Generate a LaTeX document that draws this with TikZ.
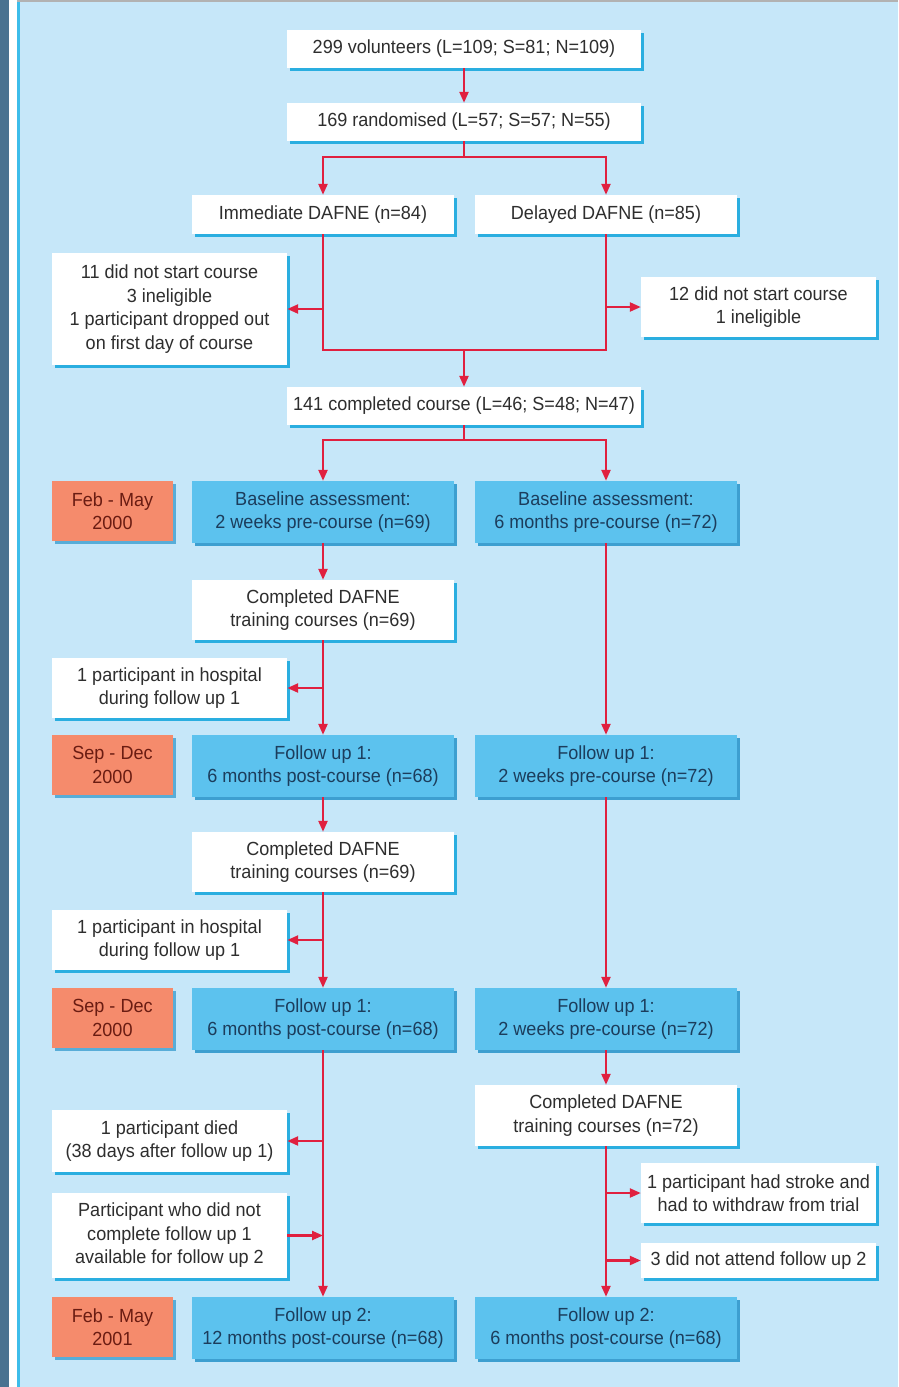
\documentclass[tikz,border=0pt]{standalone}
\usepackage{fontspec}
\setmainfont{Liberation Sans}[FakeStretch=0.95]
\usetikzlibrary{arrows.meta,shadows,calc}
\definecolor{bgc}{HTML}{C6E7F9}
\definecolor{stripe}{HTML}{4A7290}
\definecolor{cyanl}{HTML}{3DBDEA}
\definecolor{wshadow}{HTML}{2AAEE0}
\definecolor{bluebox}{HTML}{5CC2EE}
\definecolor{bshadow}{HTML}{3D9FD0}
\definecolor{orangebox}{HTML}{F58B6C}
\definecolor{redl}{HTML}{E0203F}
\definecolor{wtext}{HTML}{2E2E2E}
\definecolor{btext}{HTML}{1C3D5C}
\definecolor{otext}{HTML}{6A1C12}
\tikzset{
  base/.style={inner sep=2pt, align=center, font=\fontsize{19}{23.5}\selectfont},
  wbox/.style={base, fill=white, text=wtext, drop shadow={shadow xshift=3pt, shadow yshift=-3pt, fill=wshadow, opacity=1}},
  bbox/.style={base, fill=bluebox, text=btext, drop shadow={shadow xshift=3pt, shadow yshift=-3pt, fill=bshadow, opacity=1}},
  obox/.style={base, fill=orangebox, text=otext, drop shadow={shadow xshift=3pt, shadow yshift=-3pt, fill=bshadow, opacity=0.8}},
  wide/.style={minimum width=354pt, minimum height=38pt},
  mid/.style={minimum width=262pt},
  side/.style={minimum width=235pt},
  datebox/.style={minimum width=121pt, minimum height=60pt},
  conn/.style={draw=redl, line width=2.3pt},
  arr/.style={conn, -{Triangle[length=11pt,width=9pt]}}
}
\begin{document}
\begin{tikzpicture}[x=1pt,y=-1pt]
\useasboundingbox (0,0) rectangle (898,1387);
% background
\fill[bgc] (0,0) rectangle (898,1387);
\fill[stripe] (0,0) rectangle (9,1387);
\fill[white] (9,0) rectangle (17,1387);
\fill[cyanl] (17,0) rectangle (19.5,1387);
\fill[gray!60] (17,0) rectangle (898,2);

% top part
\node[wbox, wide] (v1) at (464,49) {299 volunteers (L=109; S=81; N=109)};
\node[wbox, wide] (v2) at (464,122) {169 randomised (L=57; S=57; N=55)};
\node[wbox, mid, minimum height=39pt] (imm) at (323,214.5) {Immediate DAFNE (n=84)};
\node[wbox, mid, minimum height=39pt] (del) at (606,214.5) {Delayed DAFNE (n=85)};
\node[wbox, side, minimum height=112pt] (nsl) at (169.5,309) {11 did not start course\\3 ineligible\\1 participant dropped out\\on first day of course};
\node[wbox, side, minimum height=60pt] (nsr) at (758.5,307) {12 did not start course\\1 ineligible};
\node[wbox, wide] (comp) at (464,406) {141 completed course (L=46; S=48; N=47)};

% row 1: baseline
\node[obox, datebox] (d1) at (112.5,511) {Feb - May\\2000};
\node[bbox, mid, minimum height=62pt] (bl) at (323,512) {Baseline assessment:\\2 weeks pre-course (n=69)};
\node[bbox, mid, minimum height=62pt] (br) at (606,512) {Baseline assessment:\\6 months pre-course (n=72)};
\node[wbox, mid, minimum height=60pt] (c1) at (323,610) {Completed DAFNE\\training courses (n=69)};
\node[wbox, side, minimum height=60pt] (h1) at (169.5,688) {1 participant in hospital\\during follow up 1};

% row 2: follow up 1
\node[obox, datebox] (d2) at (112.5,765) {Sep - Dec\\2000};
\node[bbox, mid, minimum height=62pt] (f1l) at (323,766) {Follow up 1:\\6 months post-course (n=68)};
\node[bbox, mid, minimum height=62pt] (f1r) at (606,766) {Follow up 1:\\2 weeks pre-course (n=72)};
\node[wbox, mid, minimum height=60pt] (c2) at (323,862) {Completed DAFNE\\training courses (n=69)};
\node[wbox, side, minimum height=60pt] (h2) at (169.5,940) {1 participant in hospital\\during follow up 1};

% row 3: follow up 1 (again)
\node[obox, datebox] (d3) at (112.5,1018) {Sep - Dec\\2000};
\node[bbox, mid, minimum height=62pt] (g1l) at (323,1019) {Follow up 1:\\6 months post-course (n=68)};
\node[bbox, mid, minimum height=62pt] (g1r) at (606,1019) {Follow up 1:\\2 weeks pre-course (n=72)};
\node[wbox, mid, minimum height=61pt] (c3) at (606,1115.5) {Completed DAFNE\\training courses (n=72)};
\node[wbox, side, minimum height=62pt] (died) at (169.5,1141) {1 participant died\\(38 days after follow up 1)};
\node[wbox, side, minimum height=85pt] (avail) at (169.5,1235.5) {Participant who did not\\complete follow up 1\\available for follow up 2};
\node[wbox, side, minimum height=60pt] (stroke) at (758.5,1193) {1 participant had stroke and\\had to withdraw from trial};
\node[wbox, side, minimum height=35pt] (nat) at (758.5,1260.5) {3 did not attend follow up 2};

% row 4: follow up 2
\node[obox, datebox] (d4) at (112.5,1327) {Feb - May\\2001};
\node[bbox, mid, minimum height=62pt] (f2l) at (323,1328) {Follow up 2:\\12 months post-course (n=68)};
\node[bbox, mid, minimum height=62pt] (f2r) at (606,1328) {Follow up 2:\\6 months post-course (n=68)};

% connectors
\draw[arr] (v1) -- (v2);
\coordinate (j1) at (464,157);
\draw[conn] (v2.south) -- (j1);
\draw[arr] (j1) -| (imm.north);
\draw[arr] (j1) -| (del.north);
\coordinate (j2) at (464,350);
\draw[conn] (imm.south) |- (j2);
\draw[conn] (del.south) |- (j2);
\draw[arr] ($(imm.south)!(nsl.east)!(imm.south |- j2)$) -- (nsl.east);
\draw[arr] ($(del.south)!(nsr.west)!(del.south |- j2)$) -- (nsr.west);
\draw[arr] (j2) -- (comp.north);
\coordinate (j3) at (464,440);
\draw[conn] (comp.south) -- (j3);
\draw[arr] (j3) -| (bl.north);
\draw[arr] (j3) -| (br.north);

\draw[arr] (bl) -- (c1);
\draw[arr] (c1) -- (f1l);
\draw[arr] (c1.south |- h1.east) -- (h1.east);
\draw[arr] (br) -- (f1r);

\draw[arr] (f1l) -- (c2);
\draw[arr] (c2) -- (g1l);
\draw[arr] (c2.south |- h2.east) -- (h2.east);
\draw[arr] (f1r) -- (g1r);

\draw[arr] (g1r) -- (c3);
\draw[arr] (g1l) -- (f2l);
\draw[arr] (g1l.south |- died.east) -- (died.east);
\coordinate (ja) at (g1l.south |- avail.east);
\draw[arr] (avail.east) -- (ja);
\draw[arr] (c3) -- (f2r);
\coordinate (js) at (c3.south |- stroke.west);
\draw[arr] (js) -- (stroke.west);
\coordinate (jn) at (c3.south |- nat.west);
\draw[arr] (jn) -- (nat.west);
\end{tikzpicture}
\end{document}
